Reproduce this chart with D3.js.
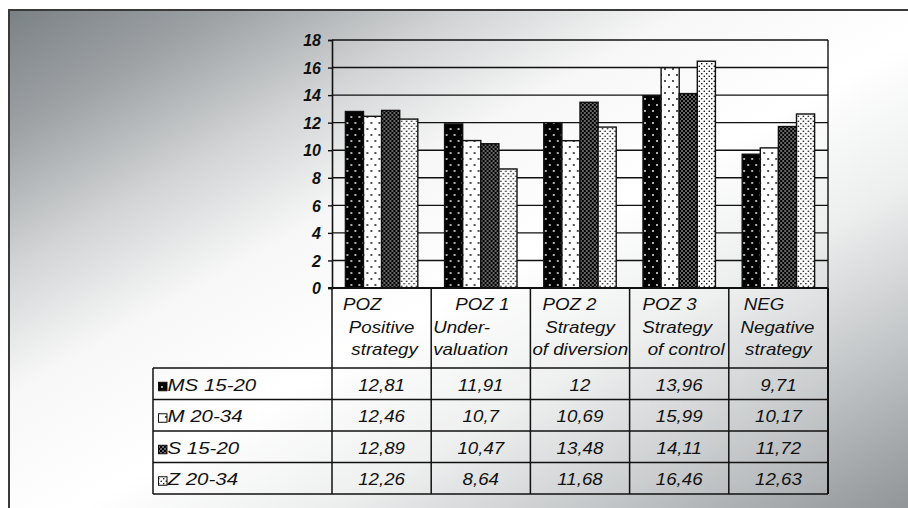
<!DOCTYPE html>
<html><head><meta charset="utf-8">
<script src="https://cdn.jsdelivr.net/npm/d3@7"></script>
<style>
body{margin:0;background:#fff}
svg{display:block}
text{font-family:"Liberation Sans",Arial,sans-serif}
</style>
</head><body>
<svg id="c" width="908" height="508"></svg>
<script>
// ---- data ----
const categories = ["POZ", "POZ 1", "POZ 2", "POZ 3", "NEG"];
const categoryLines = [
  ["POZ", "Positive", "strategy"],
  ["POZ 1", "Under-", "valuation"],
  ["POZ 2", "Strategy", "of diversion"],
  ["POZ 3", "Strategy", "of control"],
  ["NEG", "Negative", "strategy"]
];
const seriesNames = ["MS 15-20", "M 20-34", "S 15-20", "Z 20-34"];
const valuesMS1520 = [12.81, 11.91, 12, 13.96, 9.71];
const valuesM2034  = [12.46, 10.7, 10.69, 15.99, 10.17];
const valuesS1520  = [12.89, 10.47, 13.48, 14.11, 11.72];
const valuesZ2034  = [12.26, 8.64, 11.68, 16.46, 12.63];
const yTicks = [0, 2, 4, 6, 8, 10, 12, 14, 16, 18];

const seriesValues = [valuesMS1520, valuesM2034, valuesS1520, valuesZ2034];

// ---- layout ----
const W = 908, H = 508;
const plot = {left: 332, right: 828, top: 40, bottom: 288};
const tableLeft = 153;
const headerBottom = 368;
const rowH = 31.5;
const textScale = 1.17, legendScale = 1.28;
// per header line: [anchor, offset] (start: from column left, middle: from column centre)
const headerPlacement = [
  [["start", 11], ["middle", 0], ["middle", 3]],
  [["middle", 1.5], ["start", 2], ["start", 2]],
  [["start", 12], ["middle", 0], ["start", 2]],
  [["start", 13], ["middle", -2], ["middle", 7]],
  [["start", 15], ["middle", -1], ["middle", 0]]
];
const headerBaselines = [310, 333, 355];

const svg = d3.select("#c");
const defs = svg.append("defs");

// background gradient
const grad = defs.append("linearGradient").attr("id", "bg")
  .attr("x1", 0).attr("y1", 0).attr("x2", 1).attr("y2", 1);
[[0, "#7a8185"], [0.12, "#9ea2a5"], [0.25, "#d2d4d5"], [0.37, "#f7f7f7"],
 [0.52, "#ffffff"], [0.66, "#eceded"], [0.8, "#c4c7c9"], [0.92, "#9fa3a6"], [1, "#888d90"]]
  .forEach(([o, c]) => grad.append("stop").attr("offset", o).attr("stop-color", c));

// patterns
function pattern(id, w, h, bg, fg, dots, r) {
  const p = defs.append("pattern").attr("id", id).attr("patternUnits", "userSpaceOnUse")
    .attr("width", w).attr("height", h);
  p.append("rect").attr("width", w).attr("height", h).attr("fill", bg);
  dots.forEach(([cx, cy]) => p.append("circle").attr("cx", cx).attr("cy", cy).attr("r", r).attr("fill", fg));
}
pattern("p0", 8, 12, "#000", "#fff", [[2, 3], [6, 9]], 0.9);
pattern("p1", 8, 12, "#fff", "#000", [[2, 3], [6, 9]], 0.9);
pattern("p2", 4, 4, "#000", "#fff", [[1, 1], [3, 3]], 0.75);
pattern("p3", 5, 5, "#fff", "#000", [[1.25, 1.25], [3.75, 3.75]], 0.8);
const fills = ["url(#p0)", "url(#p1)", "url(#p2)", "url(#p3)"];

// frame
svg.append("rect").attr("x", 9).attr("y", 10).attr("width", W + 10).attr("height", H + 10)
  .attr("fill", "url(#bg)").attr("stroke", "#3a3a3a").attr("stroke-width", 2);

// scales
const y = d3.scaleLinear().domain([0, 18]).range([plot.bottom, plot.top]);
const xCol = d3.scaleBand().domain(categories).range([plot.left, plot.right]);
const x0 = d3.scaleBand().domain(categories).range([plot.left, plot.right])
  .paddingInner(0.27).paddingOuter(0.135);
const x1 = d3.scaleBand().domain(d3.range(seriesNames.length)).range([0, x0.bandwidth()]);

// gridlines
svg.append("g").selectAll("line").data(yTicks.filter(d => d > 0)).join("line")
  .attr("x1", plot.left).attr("x2", plot.right)
  .attr("y1", d => y(d)).attr("y2", d => y(d))
  .attr("stroke", "#111").attr("stroke-width", 1.4);
svg.append("line").attr("x1", plot.right).attr("x2", plot.right)
  .attr("y1", plot.top).attr("y2", plot.bottom).attr("stroke", "#111").attr("stroke-width", 1.4);

// y axis
const yAxis = svg.append("g").attr("transform", `translate(${plot.left},0)`)
  .call(d3.axisLeft(y).tickValues(yTicks).tickSize(4).tickPadding(7).tickFormat(d3.format("d")));
yAxis.select(".domain").attr("stroke", "#111").attr("stroke-width", 1.6);
yAxis.selectAll(".tick line").attr("stroke", "#111").attr("stroke-width", 1.4);
yAxis.selectAll(".tick text").attr("font-size", 16).attr("font-weight", "bold")
  .attr("font-style", "italic").attr("fill", "#111").attr("dy", "0.36em");

// bars
const groups = svg.append("g").selectAll("g").data(categories).join("g")
  .attr("transform", d => `translate(${x0(d)},0)`);
groups.selectAll("rect").data((d, i) => seriesValues.map((vals, s) => ({s, v: vals[i]}))).join("rect")
  .attr("x", d => x1(d.s)).attr("width", x1.bandwidth())
  .attr("y", d => y(d.v)).attr("height", d => y(0) - y(d.v))
  .attr("fill", d => fills[d.s]).attr("stroke", "#111").attr("stroke-width", 1.4);

// table
const table = svg.append("g");
const rowsTop = headerBottom;
const tableBottom = rowsTop + rowH * seriesNames.length;
// light overlay
table.append("rect").attr("x", plot.left).attr("y", plot.bottom)
  .attr("width", plot.right - plot.left).attr("height", headerBottom - plot.bottom)
  .attr("fill", "#fff").attr("opacity", 0.12);
table.append("rect").attr("x", tableLeft).attr("y", rowsTop)
  .attr("width", plot.right - tableLeft).attr("height", tableBottom - rowsTop)
  .attr("fill", "#fff").attr("opacity", 0.12);

// clip paths for header cells
categories.forEach((c, i) => {
  defs.append("clipPath").attr("id", "hc" + i).append("rect")
    .attr("x", xCol(c)).attr("y", plot.bottom).attr("width", xCol.bandwidth()).attr("height", headerBottom - plot.bottom);
});

function stext(g, x, yy, str, anchor, scale) {
  return g.append("text").attr("transform", `translate(${x},${yy}) scale(${scale},1)`)
    .attr("text-anchor", anchor).attr("font-size", 16).attr("font-style", "italic")
    .attr("fill", "#111").text(str);
}

// header text
categories.forEach((c, i) => {
  const hg = table.append("g").attr("clip-path", `url(#hc${i})`);
  categoryLines[i].forEach((line, j) => {
    const [anchor, off] = headerPlacement[i][j];
    const xx = anchor === "start" ? xCol(c) + off : xCol(c) + xCol.bandwidth() / 2 + off;
    stext(hg, xx, headerBaselines[j], line, anchor, textScale);
  });
});

// values
const fmt = v => String(v).replace(".", ",");
seriesNames.forEach((name, s) => {
  const cy = rowsTop + rowH * s + rowH / 2 + 7;
  categories.forEach((c, i) => {
    stext(table, xCol(c) + xCol.bandwidth() / 2, cy, fmt(seriesValues[s][i]), "middle", textScale);
  });
  // legend key
  table.append("rect").attr("x", tableLeft + 5.5).attr("y", cy - 8.5).attr("width", 8.5).attr("height", 8.5)
    .attr("fill", fills[s]).attr("stroke", "#111").attr("stroke-width", 1);
  stext(table, tableLeft + 14.5, cy, name, "start", legendScale);
});

// table lines
const lineAttrs = sel => sel.attr("stroke", "#111").attr("stroke-width", 1.5);
// horizontal
table.append("line").attr("x1", plot.left - 4).attr("x2", plot.right).attr("y1", plot.bottom).attr("y2", plot.bottom).call(lineAttrs).attr("stroke-width", 1.8);
d3.range(seriesNames.length + 1).forEach(k => {
  const yy = rowsTop + rowH * k;
  table.append("line").attr("x1", tableLeft).attr("x2", plot.right).attr("y1", yy).attr("y2", yy).call(lineAttrs);
});
// vertical
categories.forEach(c => {
  table.append("line").attr("x1", xCol(c)).attr("x2", xCol(c)).attr("y1", plot.bottom).attr("y2", tableBottom).call(lineAttrs);
});
table.append("line").attr("x1", plot.right).attr("x2", plot.right).attr("y1", plot.bottom).attr("y2", tableBottom).call(lineAttrs).attr("stroke-width", 2);
table.append("line").attr("x1", tableLeft).attr("x2", tableLeft).attr("y1", rowsTop).attr("y2", tableBottom).call(lineAttrs);
</script>
</body></html>
